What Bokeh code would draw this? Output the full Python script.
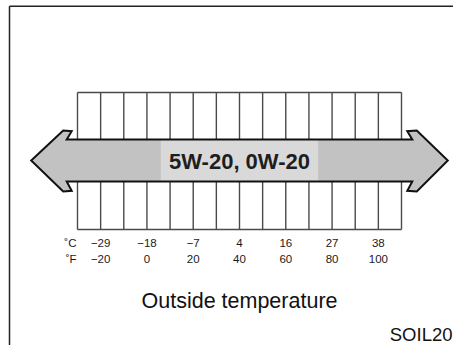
from bokeh.plotting import figure
from bokeh.models import Range1d
from bokeh.core.properties import value
from bokeh.embed import file_html
from bokeh.resources import INLINE

# ---- data ----
fahrenheit_ticks = [-20, 0, 20, 40, 60, 80, 100]
celsius_ticks = [-29, -18, -7, 4, 16, 27, 38]
grid_lines_f = list(range(-30, 111, 10))
grade_label = "5W-20, 0W-20"
grade_range_f = [-50, 130]        # arrow spans whole range (both ends open)
highlight_f = [6, 74]             # lighter band behind the label
axis_title = "Outside temperature"
code_label = "SOIL20"

# ---- layout ----
W, H = 453, 345
PX_PER_F = 324.0 / 140.0
X0 = 77.0                     # canvas x of -30 F
x_start = -30 - X0 / PX_PER_F
x_end = -30 + (W - X0) / PX_PER_F

def px(n):
    return n / PX_PER_F

p = figure(width=W, height=H, output_backend="svg", toolbar_location=None,
           x_range=Range1d(x_start, x_end), y_range=Range1d(H, 0),
           min_border=0, background_fill_color="white", border_fill_color="white")
p.outline_line_color = None
p.axis.visible = False
p.grid.visible = False

GRID_TOP, GRID_BOT = 92, 229
BODY_TOP, BODY_BOT = 139, 181
HEAD_TOP, HEAD_BOT = 130, 191
MID = (BODY_TOP + BODY_BOT) / 2
grid_color = "#4a4a4a"
FONT = value("Liberation Sans")

# frame border
fx = x_start + px(9)
p.segment(x0=[fx, fx], y0=[5.7, 5.7], x1=[fx, x_end + 5], y1=[H + 5, 5.7],
          line_color="#222222", line_width=1.5)

# grid
p.segment(x0=grid_lines_f, y0=[GRID_TOP] * len(grid_lines_f),
          x1=grid_lines_f, y1=[GRID_BOT] * len(grid_lines_f),
          line_color=grid_color, line_width=1.4)
p.segment(x0=[grid_lines_f[0]] * 2, y0=[GRID_TOP, GRID_BOT],
          x1=[grid_lines_f[-1]] * 2, y1=[GRID_TOP, GRID_BOT],
          line_color=grid_color, line_width=1.4)

# arrow
lo, hi = grade_range_f
ax = [lo, lo + px(32), lo + px(40.5), lo + px(35.5),
      hi - px(35.5), hi - px(40.5), hi - px(31), hi,
      hi - px(31), hi - px(40.5), hi - px(35.5),
      lo + px(35.5), lo + px(40.5), lo + px(32)]
ay = [MID, HEAD_TOP, HEAD_TOP + 0.7, BODY_TOP,
      BODY_TOP, HEAD_TOP + 0.7, HEAD_TOP, MID,
      HEAD_BOT, HEAD_BOT - 0.7, BODY_BOT,
      BODY_BOT, HEAD_BOT - 0.7, HEAD_BOT]
p.patch(ax, ay, fill_color="#c2c2c2", line_color=None)
p.quad(left=[highlight_f[0]], right=[highlight_f[1]], top=[BODY_TOP], bottom=[BODY_BOT],
       fill_color="#d9d9d9", line_color=None)
p.patch(ax, ay, fill_alpha=0, line_color="#111111", line_width=2, line_join="miter")

mid_f = (lo + hi) / 2
p.text(x=[mid_f], y=[MID + 1], text=[grade_label], text_align="center",
       text_baseline="middle", text_font=FONT,
       text_font_style="bold", text_font_size="22px", text_color="#1e1e1e")

# tick labels
C_Y, F_Y = 242, 258.5
fs = "11.5px"
p.text(x=fahrenheit_ticks, y=[C_Y] * 7, text=[str(c).replace("-", "\u2212") for c in celsius_ticks],
       text_align="center", text_baseline="middle", text_font=FONT,
       text_font_size=fs, text_color="#1a1a1a")
p.text(x=fahrenheit_ticks, y=[F_Y] * 7, text=[str(f).replace("-", "\u2212") for f in fahrenheit_ticks],
       text_align="center", text_baseline="middle", text_font=FONT,
       text_font_size=fs, text_color="#1a1a1a")
p.text(x=[-30 - px(1)] * 2, y=[C_Y, F_Y], text=["\u02daC", "\u02daF"],
       text_align="right", text_baseline="middle", text_font=FONT,
       text_font_size=fs, text_color="#1a1a1a")

p.text(x=[mid_f], y=[300], text=[axis_title], text_align="center",
       text_baseline="middle", text_font=FONT,
       text_font_size="21.5px", text_color="#111111")
p.text(x=[x_end - px(1)], y=[344], text=[code_label], text_align="right",
       text_baseline="bottom", text_font=FONT,
       text_font_size="18.5px", text_color="#111111")

open("out.html", "w").write(file_html(p, INLINE))
